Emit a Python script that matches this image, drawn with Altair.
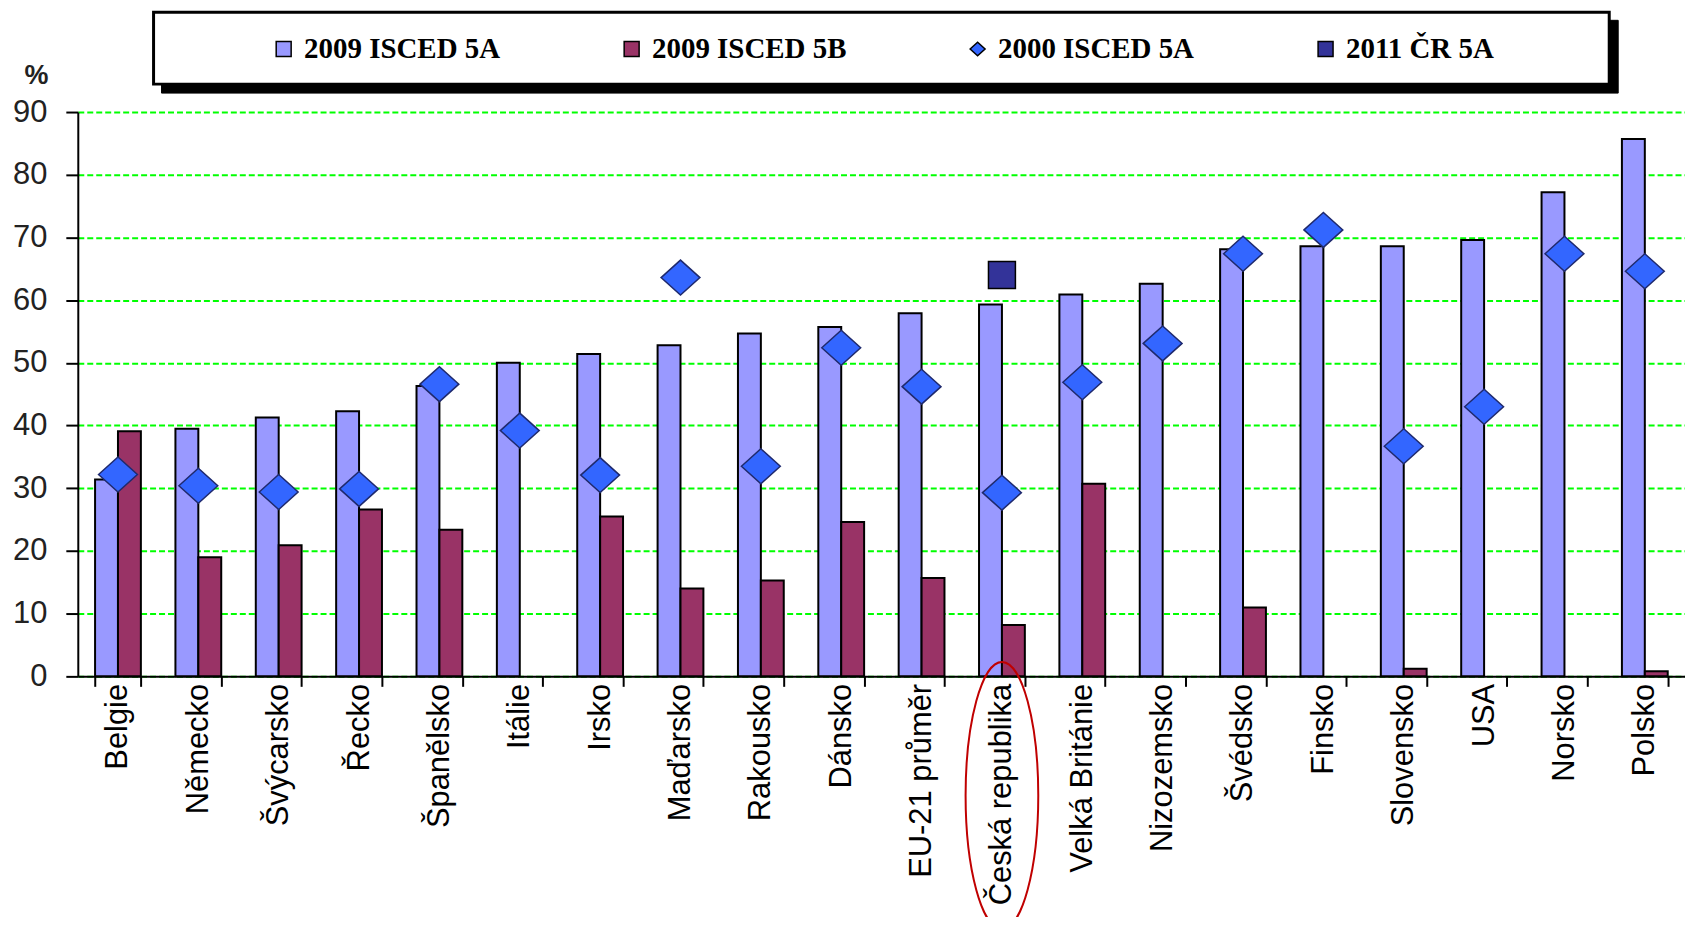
import altair as alt
import pandas as pd

countries = ["Belgie", "Německo", "Švýcarsko", "Řecko", "Španělsko", "Itálie", "Irsko",
             "Maďarsko", "Rakousko", "Dánsko", "EU-21 průměr", "Česká republika",
             "Velká Británie", "Nizozemsko", "Švédsko", "Finsko", "Slovensko", "USA",
             "Norsko", "Polsko"]
isced5a_2009 = [31.4, 39.5, 41.3, 42.3, 46.3, 50.0, 51.4, 52.8, 54.7, 55.7, 57.9, 59.3,
                60.9, 62.6, 68.1, 68.6, 68.6, 69.6, 77.2, 85.7]
isced5b_2009 = [39.1, 19.0, 20.9, 26.6, 23.4, None, 25.5, 14.0, 15.3, 24.6, 15.7, 8.2,
                30.7, None, 11.0, None, 1.2, None, None, 0.8]
isced5a_2000 = [32.2, 30.4, 29.4, 29.9, 46.6, 39.2, 32.1, 63.6, 33.5, 52.4, 46.2, 29.3,
                46.9, 53.1, 67.4, 71.2, 36.7, 43.0, 67.4, 64.6]
cr_2011_country = ["Česká republika"]
cr_2011_value = [64.0]

series = ["2009 ISCED 5A", "2009 ISCED 5B", "2000 ISCED 5A", "2011 ČR 5A"]
colors = ["#9999ff", "#993366", "#3366ff", "#333399"]
diamond_path = "M-1,0 L0,-0.9 L1,0 L0,0.9 Z"
shapes = ["square", "square", diamond_path, "square"]
y_ticks = [0, 10, 20, 30, 40, 50, 60, 70, 80, 90]

rows = []
for c, a, b in zip(countries, isced5a_2009, isced5b_2009):
    rows.append({"country": c, "series": series[0], "value": a})
    if b is not None:
        rows.append({"country": c, "series": series[1], "value": b})
bars_df = pd.DataFrame(rows)
dia_df = pd.DataFrame({"country": countries, "series": series[2], "value": isced5a_2000})
sq_df = pd.DataFrame({"country": cr_2011_country, "series": series[3], "value": cr_2011_value})
ell_df = pd.DataFrame({"country": ["Česká republika"], "value": [-19.0]})
deco_df = pd.DataFrame({"k": [0]})

legend = alt.Legend(
    title=None, orient="none", legendX=192, legendY=-78, direction="horizontal",
    columnPadding=117, symbolSize=225, symbolStrokeColor="black", symbolStrokeWidth=1.5,
    labelOffset=6, padding=0, labelFont="Liberation Serif", labelFontWeight="bold",
    labelFontSize=29, labelColor="black", labelLimit=0,
)
color_scale = alt.Scale(domain=series, range=colors)
shape_scale = alt.Scale(domain=series, range=shapes)

x_enc = alt.X(
    "country:N", sort=countries,
    scale=alt.Scale(paddingInner=0.43, paddingOuter=0.215),
    axis=alt.Axis(
        title=None, labelAngle=-90, labelFont="Liberation Sans", labelFontSize=31,
        labelColor="black", labelLimit=0, labelPadding=-3, tickBand="extent",
        tickSize=10, tickWidth=2, tickColor="black", domainColor="black",
        domainWidth=2, grid=False,
    ),
)
y_enc = alt.Y(
    "value:Q", scale=alt.Scale(domain=[0, 90], nice=False),
    axis=alt.Axis(
        values=y_ticks, title="%", titleAngle=0, titleX=-42, titleY=-37,
        titleAlign="center", titleBaseline="middle", titleFont="Liberation Sans",
        titleFontSize=27, titleFontWeight="bold", titleColor="#222222",
        labelFont="Liberation Sans", labelFontSize=31, labelColor="#222222",
        labelPadding=19, tickSize=12, tickWidth=2, tickColor="black",
        domainColor="black", domainWidth=2, grid=True, gridColor="#00ff00",
        gridDash=[6, 3], gridWidth=2,
    ),
)

shadow = alt.Chart(deco_df).mark_rect(fill="black", stroke="black", strokeWidth=1).encode(
    x=alt.value(84), x2=alt.value(1545), y=alt.value(-92), y2=alt.value(-19)
)
box = alt.Chart(deco_df).mark_rect(fill="white", stroke="black", strokeWidth=3).encode(
    x=alt.value(76), x2=alt.value(1536), y=alt.value(-100), y2=alt.value(-28)
)

bars = alt.Chart(bars_df).mark_bar(stroke="black", strokeWidth=2).encode(
    x=x_enc,
    y=y_enc,
    xOffset=alt.XOffset("series:N", scale=alt.Scale(domain=series[:2])),
    color=alt.Color("series:N", scale=color_scale, legend=legend),
)

diamonds = alt.Chart(dia_df).mark_point(
    filled=True, size=1520, stroke="#1f2a6e", strokeWidth=1.5, opacity=1
).encode(
    x=alt.X("country:N", sort=countries),
    y=alt.Y("value:Q"),
    color=alt.Color("series:N", scale=color_scale, legend=legend),
    shape=alt.Shape("series:N", scale=shape_scale, legend=legend),
)

squares = alt.Chart(sq_df).mark_point(
    filled=True, size=730, stroke="black", strokeWidth=1.5, opacity=1
).encode(
    x=alt.X("country:N", sort=countries),
    y=alt.Y("value:Q"),
    color=alt.Color("series:N", scale=color_scale, legend=legend),
    shape=alt.Shape("series:N", scale=shape_scale, legend=legend),
)

ellipse_path = ("M0,-1 C0.149,-1 0.272,-0.552 0.272,0 C0.272,0.552 0.149,1 0,1 "
                "C-0.149,1 -0.272,0.552 -0.272,0 C-0.272,-0.552 -0.149,-1 0,-1 Z")
ellipse = alt.Chart(ell_df).mark_point(
    shape=ellipse_path, size=71824, filled=False, stroke="#c00000", strokeWidth=2,
    opacity=1
).encode(
    x=alt.X("country:N", sort=countries),
    y=alt.Y("value:Q"),
)

chart = alt.layer(shadow, box, bars, diamonds, squares, ellipse).properties(
    width=1612, height=566,
    autosize=alt.AutoSizeParams(type="none"),
    padding={"left": 70, "top": 103, "right": 0, "bottom": 240},
    background="white",
).configure_view(strokeWidth=0)

chart.save("out.html", embed_options={"renderer": "svg", "actions": False})
